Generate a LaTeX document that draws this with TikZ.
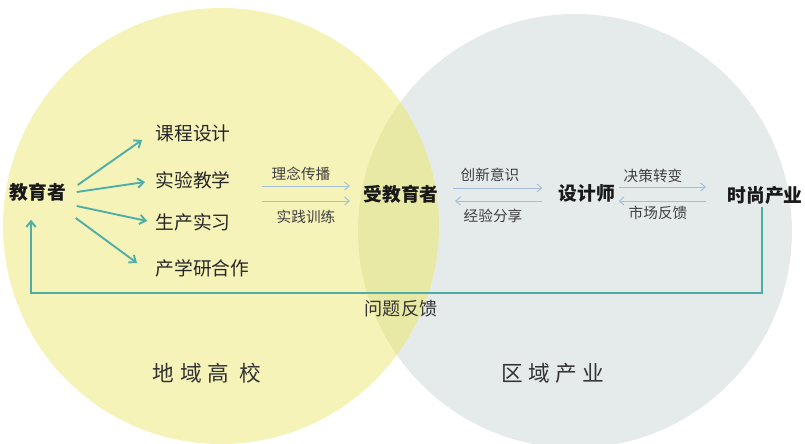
\documentclass[tikz,border=0pt]{standalone}
\usepackage{fontspec}
\newfontfamily\cjk{Noto Sans CJK SC}
\usetikzlibrary{arrows.meta,calc}

\definecolor{schoolyellow}{HTML}{F6F3B9}
\definecolor{industrygray}{HTML}{E5EBEB}
\definecolor{overlapyellow}{HTML}{E9E9A6}
\definecolor{flowteal}{HTML}{4DAEA8}
\definecolor{flowblue}{HTML}{A3BEDB}

\tikzset{
  actor/.style={font=\cjk\bfseries\fontsize{16}{16}\selectfont, text=black!90, inner sep=2pt},
  item/.style={font=\cjk\fontsize{16}{16}\selectfont, text=black!85, anchor=west, inner sep=2pt},
  tag/.style={font=\cjk\fontsize{12.5}{12.5}\selectfont, text=black!75, inner sep=1pt},
  region/.style={font=\cjk\fontsize{18.5}{18.5}\selectfont, text=black!80},
  tealflow/.style={-{Straight Barb[length=5pt,width=8pt]}, flowteal, line width=1.6pt},
  blueflow/.style={-{Straight Barb[length=4pt,width=7pt]}, flowblue, line width=0.8pt},
}

\begin{document}
\begin{tikzpicture}[x=0.03cm, y=-0.03cm]
  \useasboundingbox (0,0) rectangle (805,443);

  % Two regions
  \fill[industrygray] (575,231) circle (217);
  \fill[schoolyellow] (221,226) circle (218);
  \begin{scope}
    \clip (221,226) circle (218);
    \fill[overlapyellow] (575,231) circle (217);
  \end{scope}
  \node[region] (school) at (207,373) {地\hspace{5pt}域\hspace{5pt}高\hspace{9pt}校};
  \node[region] (industry) at (553,373) {区\hspace{4.5pt}域\hspace{4.5pt}产\hspace{4.5pt}业};

  % Educator and teaching activities
  \node[actor] (edu) at (38,192) {教育者};
  \node[item] (kc) at (153,133) {课程设计};
  \node[item] (sy) at (153,180) {实验教学};
  \node[item] (sc) at (153,222) {生产实习};
  \node[item] (cx) at (153,268) {产学研合作};
  \draw[tealflow] ($(edu.east)+(9,-7)$) -- ($(kc.west)+(-11,7)$);
  \draw[tealflow] ($(edu.east)+(8,0)$) -- ($(sy.west)+(-8,2)$);
  \draw[tealflow] ($(edu.east)+(8,14)$) -- ($(sc.west)+(-6,-1)$);
  \draw[tealflow] ($(edu.east)+(7,26)$) -- ($(cx.west)+(-16,-5)$);

  % Chain of actors
  \node[actor] (stu) at (401,194) {受教育者};
  \node[actor] (des) at (587,193) {设计师};
  \node[actor] (ind) at (765,195) {时尚产业};

  % Teaching to students
  \coordinate (spread) at (262,186);
  \coordinate (train) at (262,201);
  \draw[blueflow] (spread) -- ($(stu.west)+(-11,-8)$);
  \draw[blueflow] (train) -- ($(stu.west)+(-11,7)$);
  \node[tag] (ln) at (301,174) {理念传播};
  \node[tag] (sj) at (306,217) {实践训练};

  % Students and designers
  \draw[blueflow] ($(stu.east)+(12,-6)$) -- ($(des.west)+(-14,-5)$);
  \draw[blueflow] ($(des.west)+(-14,8)$) -- ($(stu.east)+(14,7)$);
  \node[tag] (cy) at (490,175) {创新意识};
  \node[tag] (jy) at (493,216) {经验分享};

  % Designers and industry
  \draw[blueflow] ($(des.east)+(1,-6)$) -- ($(ind.west)+(-19,-8)$);
  \draw[blueflow] ($(ind.west)+(-19,6)$) -- ($(des.east)+(1,8)$);
  \node[tag] (jc) at (653,176) {决策转变};
  \node[tag] (sf) at (658,213) {市场反馈};

  % Feedback loop
  \coordinate (loop) at (31,293);
  \draw[tealflow] ($(ind.south)+(-3,0)$) |- (loop) -- ($(edu.south)+(-7,16)$);
  \node[font=\cjk\fontsize{15.5}{15.5}\selectfont, text=black!80] (fb) at (401,309) {问题反馈};
\end{tikzpicture}
\end{document}
